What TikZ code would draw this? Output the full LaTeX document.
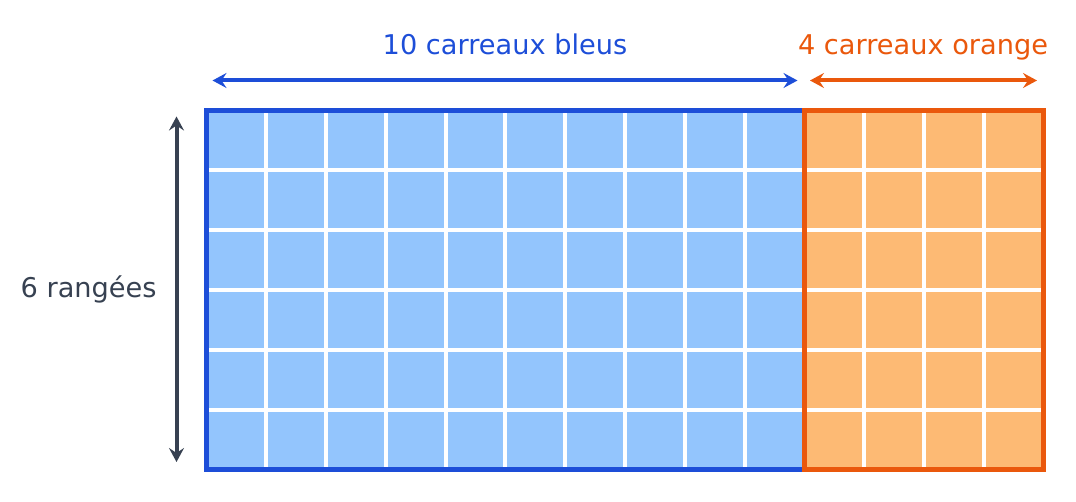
\documentclass[tikz,border=0pt]{standalone}
\usepackage{fontspec}
\setmainfont{DejaVu Sans}
\usetikzlibrary{arrows.meta}
\definecolor{bleufonce}{HTML}{1D4ED8}
\definecolor{bleuclair}{HTML}{93C5FD}
\definecolor{orangefonce}{HTML}{EA580C}
\definecolor{orangeclair}{HTML}{FDBA74}
\definecolor{ardoise}{HTML}{374151}
\tikzset{
	every node/.style={font=\fontsize{13.6}{16}\selectfont, inner sep=0pt},
	cote/.style={
		line width=2pt,
		{Stealth[length=7pt,width=7.5pt,inset=2.5pt]}-{Stealth[length=7pt,width=7.5pt,inset=2.5pt]}
	},
	bord/.style={
		draw,
		line width=2.5pt,
	},
	joint/.style={
		draw=white,
		line width=2pt,
	},
	legende/.style={
		anchor=base,
	},
}

\begin{document}
\begin{tikzpicture}[x=0.5pt,y=-0.5pt]
		\useasboundingbox (0,0) rectangle (1076,502);

		\coordinate (hg) at (206.5,110.5);
		\coordinate (hm) at (804.5,110.5);
		\coordinate (bm) at (804.5,469.5);
		\coordinate (bd) at (1043.5,469.5);

		\fill[bleuclair] 		(hg) rectangle (bm);
		\fill[orangeclair] 	(hm) rectangle (bd);

		% joints blancs entre les carreaux
		\foreach \i in {1,...,13}
			\draw[joint] ({206.5+59.79*\i},110.5) -- ++(0,359);
		\foreach \j in {1,...,5}
			\draw[joint] (206.5,{110.5+59.83*\j}) -- ++(837,0);

		\draw[bord, bleufonce] 		(hg) rectangle (bm);
		\draw[bord, orangefonce] 	(hm) rectangle (bd);

		\coordinate (bleuG) at (212.5,80.5);
		\coordinate (bleuD) at (797.5,80.5);
		\coordinate (orangeG) at (810,80.5);
		\coordinate (orangeD) at (1037,80.5);
		\coordinate (rangH) at (176.5,116.5);
		\coordinate (rangB) at (176.5,462);

		\draw[cote, bleufonce] 		(bleuG) -- (bleuD);
		\draw[cote, orangefonce] 	(orangeG) -- (orangeD);
		\draw[cote, ardoise] 			(rangH) -- (rangB);

		\node[legende, text=bleufonce] 		(dix) at (505,54.5) {10 carreaux bleus};
		\node[legende, text=orangefonce] 	(quatre) at (923,54.5) {4 carreaux orange};
		\node[legende, anchor=base east, text=ardoise] (six) at (157,297.5) {6 rangées};

	\end{tikzpicture}
\end{document}
